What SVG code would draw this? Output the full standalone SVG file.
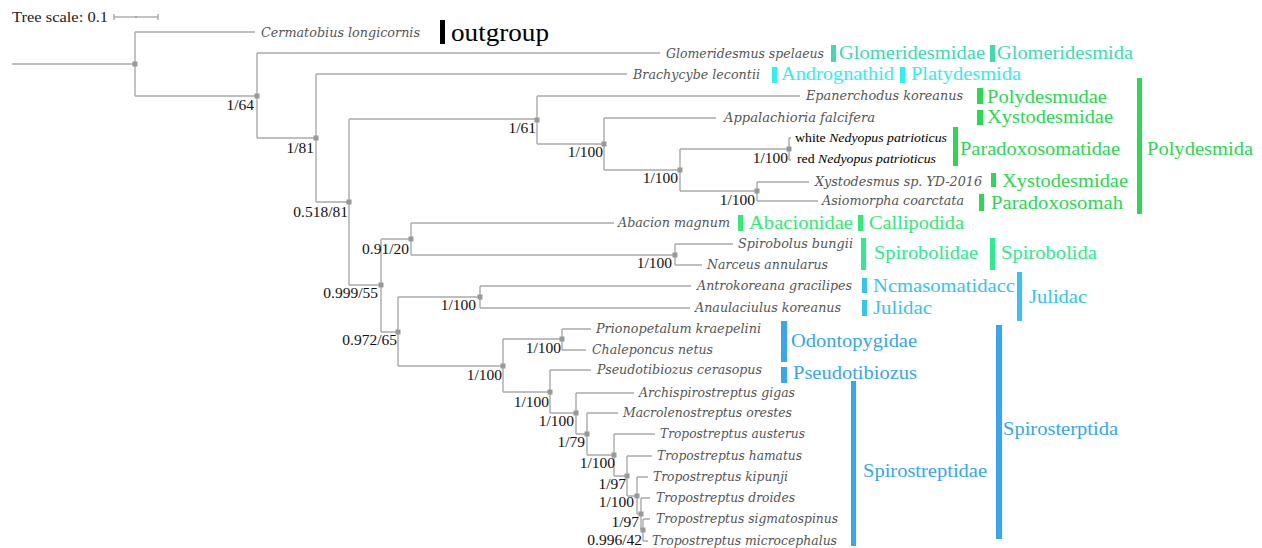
<svg xmlns="http://www.w3.org/2000/svg" width="1262" height="548" viewBox="0 0 1262 548">
<style>
.br{fill:none;stroke:#aaaaaa;stroke-width:1.4}
.nd{fill:#999999}
.lf{font-family:"DejaVu Serif","Liberation Serif",serif;font-style:italic;font-size:13.5px;fill:#555555}
.nb{font-family:"Liberation Serif",serif;font-size:13px;fill:#000000}
.sp{font-family:"Liberation Serif",serif;font-size:15.5px;fill:#111111;text-anchor:end}
.cl{font-family:"Liberation Serif",serif;font-size:19.5px}
.teal{fill:#3ddbb0}.cyan{fill:#2ef0f0}.grn{fill:#2ad852}.grn2{fill:#33ea74}.mint{fill:#2eea90}.lb{fill:#33c4f4}.bl{fill:#36a6f0}
</style>
<rect width="1262" height="548" fill="#ffffff"/>
<g id="scale">
<text x="12" y="22" font-family="Liberation Serif,serif" font-size="15" fill="#222" textLength="96" lengthAdjust="spacingAndGlyphs">Tree scale: 0.1</text>
<path d="M114,17H158M114,14V20M158,14V20M136,16V18" stroke="#888" stroke-width="1" fill="none"/>
</g>
<g id="connectors">
<path class="br" d="M12,64H135M135,32V96M135,32H255M135,96H257"/>
<path class="br" d="M257,53V138M257,53H660M257,138H316"/>
<path class="br" d="M316,74V202M316,74H627M316,202H349"/>
<path class="br" d="M349,119V285M349,119H537M349,285H381"/>
<path class="br" d="M537,96V144M537,96H800M537,144H604"/>
<path class="br" d="M604,118V170M604,118H716M604,170H680"/>
<path class="br" d="M680,149V191M680,149H789M680,191H757"/>
<path class="br" d="M789,138V160M789,138H791M789,160H791"/>
<path class="br" d="M757,182V201M757,182H809M757,201H818"/>
<path class="br" d="M381,239V332M381,239H411M381,332H398"/>
<path class="br" d="M411,223V255M411,223H614M411,255H675"/>
<path class="br" d="M675,244V265M675,244H733M675,265H702"/>
<path class="br" d="M398,297V366M398,297H480M398,366H503"/>
<path class="br" d="M480,286V308M480,286H691M480,308H690"/>
<path class="br" d="M503,339V392M503,339H562M503,392H550"/>
<path class="br" d="M562,329V350M562,329H591M562,350H586"/>
<path class="br" d="M550,370V413M550,370H591M550,413H576"/>
<path class="br" d="M576,393V434M576,393H634M576,434H587"/>
<path class="br" d="M587,413V455M587,413H618M587,455H614"/>
<path class="br" d="M614,434V476M614,434H655M614,476H627"/>
<path class="br" d="M627,456V496M627,456H652M627,496H637"/>
<path class="br" d="M637,477V514M637,477H648M637,514H641"/>
<path class="br" d="M641,498V530M641,498H650M641,530H643"/>
<path class="br" d="M643,519V541M643,519H650M643,541H648"/>
</g>
<g id="internal-nodes">
<g id="n0"><rect class="nd" x="132.5" y="61.5" width="5" height="5"/></g>
<g id="n1"><rect class="nd" x="254.5" y="93.5" width="5" height="5"/><text class="sp" x="254" y="110">1/64</text></g>
<g id="n2"><rect class="nd" x="313.5" y="135.5" width="5" height="5"/><text class="sp" x="314" y="153">1/81</text></g>
<g id="n3"><rect class="nd" x="346.5" y="199.5" width="5" height="5"/><text class="sp" x="348" y="217">0.518/81</text></g>
<g id="n4"><rect class="nd" x="534.5" y="117.5" width="5" height="5"/><text class="sp" x="536" y="133">1/61</text></g>
<g id="n5"><rect class="nd" x="601.5" y="141.5" width="5" height="5"/><text class="sp" x="603" y="157">1/100</text></g>
<g id="n6"><rect class="nd" x="677.5" y="167.5" width="5" height="5"/><text class="sp" x="678" y="183">1/100</text></g>
<g id="n7"><rect class="nd" x="786.5" y="146.5" width="5" height="5"/><text class="sp" x="788" y="163">1/100</text></g>
<g id="n8"><rect class="nd" x="754.5" y="188.5" width="5" height="5"/><text class="sp" x="755" y="205">1/100</text></g>
<g id="n10"><rect class="nd" x="378.5" y="282.5" width="5" height="5"/><text class="sp" x="378" y="298">0.999/55</text></g>
<g id="n11"><rect class="nd" x="408.5" y="236.5" width="5" height="5"/><text class="sp" x="409" y="254">0.91/20</text></g>
<g id="n12"><rect class="nd" x="672.5" y="252.5" width="5" height="5"/><text class="sp" x="672" y="268">1/100</text></g>
<g id="n13"><rect class="nd" x="395.5" y="329.5" width="5" height="5"/><text class="sp" x="397" y="345">0.972/65</text></g>
<g id="n14"><rect class="nd" x="477.5" y="294.5" width="5" height="5"/><text class="sp" x="476" y="310">1/100</text></g>
<g id="n15"><rect class="nd" x="500.5" y="363.5" width="5" height="5"/><text class="sp" x="502" y="380">1/100</text></g>
<g id="n16"><rect class="nd" x="559.5" y="336.5" width="5" height="5"/><text class="sp" x="561" y="353">1/100</text></g>
<g id="n17"><rect class="nd" x="547.5" y="389.5" width="5" height="5"/><text class="sp" x="549" y="407">1/100</text></g>
<g id="n18"><rect class="nd" x="573.5" y="410.5" width="5" height="5"/><text class="sp" x="574" y="426">1/100</text></g>
<g id="n19"><rect class="nd" x="584.5" y="431.5" width="5" height="5"/><text class="sp" x="585" y="447">1/79</text></g>
<g id="n20"><rect class="nd" x="611.5" y="452.5" width="5" height="5"/><text class="sp" x="615" y="468">1/100</text></g>
<g id="n21"><rect class="nd" x="624.5" y="473.5" width="5" height="5"/><text class="sp" x="626" y="489">1/97</text></g>
<g id="n22"><rect class="nd" x="634.5" y="493.5" width="5" height="5"/><text class="sp" x="634" y="507">1/100</text></g>
<g id="n23"><rect class="nd" x="638.5" y="511.5" width="5" height="5"/><text class="sp" x="639" y="527">1/97</text></g>
<g id="n24"><rect class="nd" x="640.5" y="527.5" width="5" height="5"/><text class="sp" x="642" y="545">0.996/42</text></g>
</g>
<g id="leaves">
<g id="leaf-cermatobius"><text class="lf" x="261" y="37" textLength="159" lengthAdjust="spacingAndGlyphs">Cermatobius longicornis</text></g>
<g id="leaf-glomeridesmus"><text class="lf" x="666" y="58" textLength="158" lengthAdjust="spacingAndGlyphs">Glomeridesmus spelaeus</text></g>
<g id="leaf-brachycybe"><text class="lf" x="633" y="79" textLength="127" lengthAdjust="spacingAndGlyphs">Brachycybe lecontii</text></g>
<g id="leaf-epanerchodus"><text class="lf" x="806" y="100" textLength="157" lengthAdjust="spacingAndGlyphs">Epanerchodus koreanus</text></g>
<g id="leaf-appalachioria"><text class="lf" x="724" y="122" textLength="151" lengthAdjust="spacingAndGlyphs">Appalachioria falcifera</text></g>
<g id="leaf-white"><text class="nb" x="795" y="142" textLength="152" lengthAdjust="spacingAndGlyphs">white <tspan font-style="italic">Nedyopus patrioticus</tspan></text></g>
<g id="leaf-red"><text class="nb" x="797" y="163" textLength="139" lengthAdjust="spacingAndGlyphs">red <tspan font-style="italic">Nedyopus patrioticus</tspan></text></g>
<g id="leaf-xystodesmus"><text class="lf" x="815" y="186" textLength="167" lengthAdjust="spacingAndGlyphs">Xystodesmus sp. YD-2016</text></g>
<g id="leaf-asiomorpha"><text class="lf" x="822" y="205" textLength="142" lengthAdjust="spacingAndGlyphs">Asiomorpha coarctata</text></g>
<g id="leaf-abacion"><text class="lf" x="618" y="227" textLength="112" lengthAdjust="spacingAndGlyphs">Abacion magnum</text></g>
<g id="leaf-spirobolus"><text class="lf" x="738" y="248" textLength="115" lengthAdjust="spacingAndGlyphs">Spirobolus bungii</text></g>
<g id="leaf-narceus"><text class="lf" x="707" y="269" textLength="121" lengthAdjust="spacingAndGlyphs">Narceus annularus</text></g>
<g id="leaf-antrokoreana"><text class="lf" x="697" y="290" textLength="155" lengthAdjust="spacingAndGlyphs">Antrokoreana gracilipes</text></g>
<g id="leaf-anaulaciulus"><text class="lf" x="695" y="312" textLength="146" lengthAdjust="spacingAndGlyphs">Anaulaciulus koreanus</text></g>
<g id="leaf-prionopetalum"><text class="lf" x="596" y="333" textLength="165" lengthAdjust="spacingAndGlyphs">Prionopetalum kraepelini</text></g>
<g id="leaf-chaleponcus"><text class="lf" x="592" y="354" textLength="121" lengthAdjust="spacingAndGlyphs">Chaleponcus netus</text></g>
<g id="leaf-pseudotibiozus"><text class="lf" x="597" y="374" textLength="165" lengthAdjust="spacingAndGlyphs">Pseudotibiozus cerasopus</text></g>
<g id="leaf-archispirostreptus"><text class="lf" x="639" y="397" textLength="156" lengthAdjust="spacingAndGlyphs">Archispirostreptus gigas</text></g>
<g id="leaf-macrolenostreptus"><text class="lf" x="623" y="417" textLength="169" lengthAdjust="spacingAndGlyphs">Macrolenostreptus orestes</text></g>
<g id="leaf-austerus"><text class="lf" x="660" y="438" textLength="145" lengthAdjust="spacingAndGlyphs">Tropostreptus austerus</text></g>
<g id="leaf-hamatus"><text class="lf" x="657" y="460" textLength="145" lengthAdjust="spacingAndGlyphs">Tropostreptus hamatus</text></g>
<g id="leaf-kipunji"><text class="lf" x="653" y="481" textLength="135" lengthAdjust="spacingAndGlyphs">Tropostreptus kipunji</text></g>
<g id="leaf-droides"><text class="lf" x="656" y="502" textLength="139" lengthAdjust="spacingAndGlyphs">Tropostreptus droides</text></g>
<g id="leaf-sigmatospinus"><text class="lf" x="656" y="523" textLength="182" lengthAdjust="spacingAndGlyphs">Tropostreptus sigmatospinus</text></g>
<g id="leaf-microcephalus"><text class="lf" x="652" y="545" textLength="185" lengthAdjust="spacingAndGlyphs">Tropostreptus microcephalus</text></g>
</g>
<g id="clade-labels">
<g id="outgroup"><rect x="440" y="20" width="5" height="24" fill="#000"/><text x="451" y="41" font-family="Liberation Serif,serif" font-size="26" fill="#000" textLength="98" lengthAdjust="spacingAndGlyphs">outgroup</text></g>
<g id="glomeridesmidae"><rect class="teal" x="831" y="45" width="5" height="17"/><text class="cl teal" x="839" y="59" textLength="146" lengthAdjust="spacingAndGlyphs">Glomeridesmidae</text></g>
<g id="glomeridesmida"><rect class="teal" x="990" y="45" width="5" height="17"/><text class="cl teal" x="997" y="59" textLength="136" lengthAdjust="spacingAndGlyphs">Glomeridesmida</text></g>
<g id="andrognathid"><rect class="cyan" x="772" y="67" width="5" height="16"/><text class="cl cyan" x="781" y="80" textLength="113" lengthAdjust="spacingAndGlyphs">Andrognathid</text></g>
<g id="platydesmida"><rect class="cyan" x="900" y="67" width="5" height="16"/><text class="cl cyan" x="911" y="80" textLength="110" lengthAdjust="spacingAndGlyphs">Platydesmida</text></g>
<g id="polydesmudae"><rect class="grn" x="977" y="88" width="6" height="16"/><text class="cl grn" x="987" y="103" textLength="120" lengthAdjust="spacingAndGlyphs">Polydesmudae</text></g>
<g id="xystodesmidae1"><rect class="grn" x="977" y="110" width="6" height="15"/><text class="cl grn" x="987" y="123" textLength="126" lengthAdjust="spacingAndGlyphs">Xystodesmidae</text></g>
<g id="paradoxosomatidae"><rect class="grn" x="953" y="127" width="5" height="39"/><text class="cl grn" x="960" y="155" textLength="160" lengthAdjust="spacingAndGlyphs">Paradoxosomatidae</text></g>
<g id="xystodesmidae2"><rect class="grn" x="991" y="173" width="5" height="14"/><text class="cl grn" x="1002" y="187" textLength="126" lengthAdjust="spacingAndGlyphs">Xystodesmidae</text></g>
<g id="paradoxosomah"><rect class="grn" x="979" y="194" width="5" height="17"/><text class="cl grn" x="991" y="209" textLength="132" lengthAdjust="spacingAndGlyphs">Paradoxosomah</text></g>
<g id="polydesmida"><rect class="grn" x="1137" y="78" width="5" height="136"/><text class="cl grn" x="1147" y="155" textLength="106" lengthAdjust="spacingAndGlyphs">Polydesmida</text></g>
<g id="abacionidae"><rect class="grn2" x="738" y="215" width="5" height="16"/><text class="cl grn2" x="749" y="229" textLength="104" lengthAdjust="spacingAndGlyphs">Abacionidae</text></g>
<g id="callipodida"><rect class="grn2" x="858" y="215" width="5" height="16"/><text class="cl grn2" x="869" y="229" textLength="95" lengthAdjust="spacingAndGlyphs">Callipodida</text></g>
<g id="spirobolidae"><rect class="mint" x="861" y="238" width="5" height="32"/><text class="cl mint" x="874" y="259" textLength="104" lengthAdjust="spacingAndGlyphs">Spirobolidae</text></g>
<g id="spirobolida"><rect class="mint" x="990" y="238" width="5" height="32"/><text class="cl mint" x="1001" y="259" textLength="96" lengthAdjust="spacingAndGlyphs">Spirobolida</text></g>
<g id="nemasomatidae"><rect class="lb" x="862" y="278" width="5" height="15"/><text class="cl lb" x="873" y="292" textLength="142" lengthAdjust="spacingAndGlyphs">Ncmasomatidacc</text></g>
<g id="julidae-small"><rect class="lb" x="862" y="300" width="5" height="16"/><text class="cl lb" x="873" y="314" textLength="59" lengthAdjust="spacingAndGlyphs">Julidac</text></g>
<g id="julidae-big"><rect class="lb" x="1017" y="272" width="5" height="49"/><text class="cl lb" x="1029" y="303" textLength="58" lengthAdjust="spacingAndGlyphs">Julidac</text></g>
<g id="odontopygidae"><rect class="bl" x="781" y="321" width="6" height="41"/><text class="cl bl" x="791" y="347" textLength="126" lengthAdjust="spacingAndGlyphs">Odontopygidae</text></g>
<g id="pseudotibiozus"><rect class="bl" x="781" y="367" width="6" height="16"/><text class="cl bl" x="793" y="379" textLength="124" lengthAdjust="spacingAndGlyphs">Pseudotibiozus</text></g>
<g id="spirostreptidae"><rect class="bl" x="851" y="381" width="5" height="165"/><text class="cl bl" x="863" y="477" textLength="124" lengthAdjust="spacingAndGlyphs">Spirostreptidae</text></g>
<g id="spirosterptida"><rect class="bl" x="996" y="325" width="6" height="214"/><text class="cl bl" x="1003" y="435" textLength="115" lengthAdjust="spacingAndGlyphs">Spirosterptida</text></g>
</g>
</svg>
